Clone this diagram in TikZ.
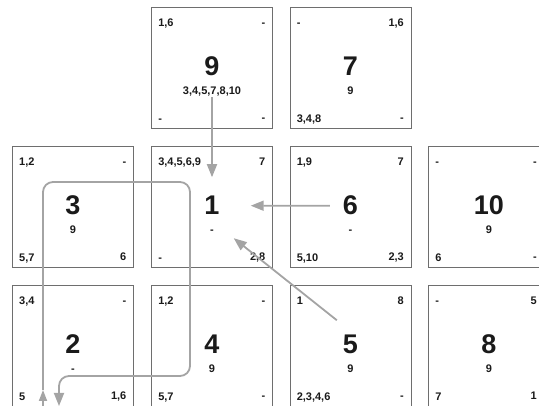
\documentclass[tikz,border=0pt]{standalone}
\usepackage{fontspec}
\setmainfont{Liberation Sans}
\usepackage{tikz}
\usetikzlibrary{arrows.meta, positioning, calc}
\definecolor{pgFrame}{HTML}{6E6E6E}
\definecolor{pgArrow}{HTML}{A4A4A4}
\definecolor{pgText}{HTML}{1A1A1A}
\tikzset{
  cell/.style={draw=pgFrame, line width=0.9pt, minimum width=121pt, minimum height=121pt, inner sep=0pt},
  corner/.style={font=\fontsize{11}{12}\selectfont\bfseries, text=pgText, inner sep=0pt},
  bignum/.style={font=\fontsize{27}{30}\selectfont\bfseries, text=pgText, inner sep=1pt},
  subnum/.style={font=\fontsize{11}{12}\selectfont\bfseries, text=pgText, inner sep=1pt},
  flow/.style={draw=pgArrow, line width=1.8pt, -{Triangle[length=13pt,width=10pt]}}
}
\begin{document}
\begin{tikzpicture}[x=1pt, y=-1pt]
  \useasboundingbox (0,0) rectangle (539,406);
  \clip (0,0) rectangle (539,406);
  % pola: numer/x/y/lewy-gorny/prawy-gorny/lewy-dolny/prawy-dolny/pod numerem
  \foreach \id/\cx/\cy/\tl/\tr/\bl/\br/\sub in {
      9/212/67.5/{1,6}/-/-/-/{3,4,5,7,8,10},
      7/350.5/67.5/-/{1,6}/{3,4,8}/-/9,
      3/73/206.5/{1,2}/-/{5,7}/6/9,
      1/212/206.5/{3,4,5,6,9}/7/-/{2,8}/-,
      6/350.5/206.5/{1,9}/7/{5,10}/{2,3}/-,
      10/489/206.5/-/-/6/-/9,
      2/73/345.5/{3,4}/-/5/{1,6}/-,
      4/212/345.5/{1,2}/-/{5,7}/-/9,
      5/350.5/345.5/1/8/{2,3,4,6}/-/9,
      8/489/345.5/-/5/7/1/9}{
    \pgfmathsetmacro{\rx}{min(\cx+53.5,537)}
    \node[cell] (b\id) at (\cx,\cy) {};
    \node[bignum, anchor=base] (n\id) at ([yshift=-8.5pt]b\id.center) {\id};
    \node[subnum, anchor=base] (s\id) at ([yshift=-27pt]b\id.center) {\sub};
    \node[corner, anchor=base west] at ([xshift=7pt, yshift=-20pt]b\id.north west) {\tl};
    \node[corner, anchor=base east] at (\rx,\cy-40.5) {\tr};
    \node[corner, anchor=base west] at ([xshift=7pt, yshift=6pt]b\id.south west) {\bl};
    \node[corner, anchor=base east] at (\rx,\cy+54.5) {\br};
  }
  % strzalki do pola 1
  \draw[flow] (s9.south) -- ([yshift=18pt]n1.north);
  \draw[flow] ([xshift=-12pt]n6.west) -- ([xshift=30pt]n1.east);
  \draw[flow] ([xshift=-5pt, yshift=14pt]n5.north west) -- ([xshift=13pt, yshift=-22pt]n1.south east);
  % petla przez pola 3 i 2
  \coordinate (lpfoot) at (43,420);
  \coordinate (lpin) at (43,390);
  \coordinate (lptr) at (190,182);
  \coordinate (lpbl) at (59,376);
  \coordinate (lpend) at (59,406);
  \draw[flow, -{Triangle[length=11pt,width=8pt]}] (lpfoot) -- (lpin);
  \draw[flow, rounded corners=10pt] (lpin) |- (lptr) |- (lpbl) -- (lpend);
\end{tikzpicture}
\end{document}
